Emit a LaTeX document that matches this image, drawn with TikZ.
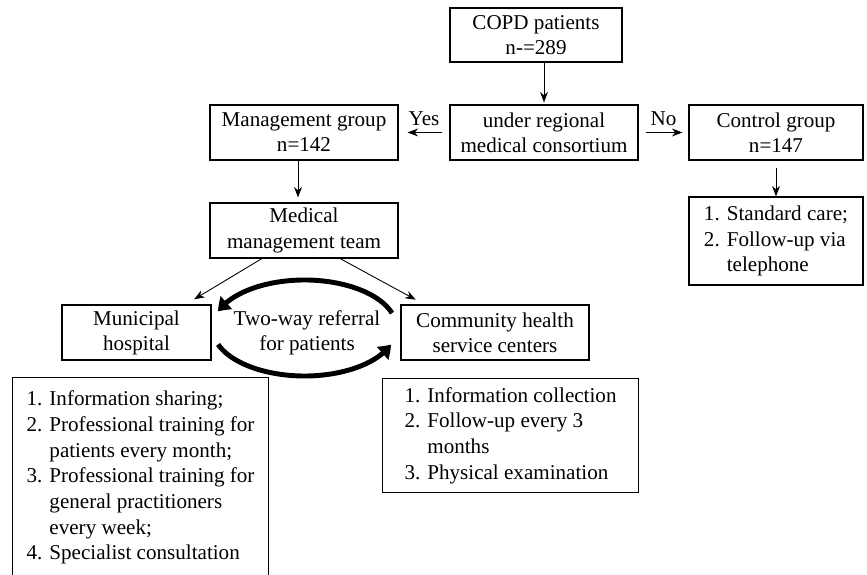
\documentclass[tikz,border=0pt]{standalone}
\usepackage{fontspec}
\setmainfont{Liberation Serif}
\usetikzlibrary{arrows.meta,bending}

\tikzset{
  box/.style={draw, line width=0.6pt, align=center, inner sep=2pt,
    font=\fontsize{12}{14.3}\selectfont},
  listbox/.style={draw, line width=0.6pt, align=left,
    font=\fontsize{12}{14.6}\selectfont},
  arr/.style={-{Stealth[length=6pt,width=4.5pt]}, line width=0.5pt},
  twoway/.style={line width=2.8pt, -{Triangle[length=7pt,width=9.5pt,bend]}}
}

\begin{document}
\begin{tikzpicture}[font=\fontsize{12}{14.3}\selectfont]
    \useasboundingbox (0,0) rectangle (17.34,-11.5);
    % top row
    \node[box, minimum width=3.44cm, minimum height=1.08cm] (copd) at (10.72,-0.7) {COPD patients\\n-=289};
    \node[box, minimum width=3.76cm, minimum height=1.1cm] (consort) at (10.88,-2.65) {under regional\\medical consortium};
    \node[box, minimum width=3.76cm, minimum height=1.1cm] (mgmt) at (6.08,-2.65) {Management group\\n=142};
    \node[box, minimum width=3.48cm, minimum height=1.1cm] (ctrl) at (15.52,-2.65) {Control group\\n=147};
    \node[listbox, minimum width=3.48cm, minimum height=1.76cm] (ctrllist) at (15.52,-4.82) {1. Standard care;\\2. Follow-up via\\\phantom{2. }telephone};
    \draw[arr, shorten >=0.04cm] (copd.south -| consort.north) -- (consort.north);
    \draw[arr, shorten <=0.14cm, shorten >=0.18cm] (consort.west) -- node[above] {Yes} (mgmt.east);
    \draw[arr, shorten <=0.14cm, shorten >=0.12cm] (consort.east) -- node[above] {No} (ctrl.west);
    \draw[arr, shorten <=0.14cm] (ctrl.south) -- (ctrllist.north);
    % management branch
    \node[box, minimum width=3.76cm, minimum height=1.1cm] (team) at (6.08,-4.61) {Medical\\management team};
    \node[box, minimum width=2.98cm, minimum height=1.1cm] (hosp) at (2.73,-6.65) {Municipal\\hospital};
    \node[box, minimum width=3.76cm, minimum height=1.1cm] (comm) at (9.9,-6.65) {Community health\\service centers};
    \draw[arr, shorten >=0.1cm] ([xshift=-0.12cm]mgmt.south) -- ([xshift=-0.12cm]team.north);
    \draw[arr, shorten >=0.2cm] ([xshift=-0.84cm]team.south) -- ([xshift=-0.52cm]hosp.north east);
    \draw[arr, shorten >=0.2cm] ([xshift=0.72cm]team.south) -- ([xshift=0.48cm]comm.north west);
    % two-way referral
    \coordinate (loop) at (6.09,-6.56);
    \node[align=center] (refer) at (6.14,-6.66) {Two-way referral\\for patients};
    \draw[twoway] ([shift={(18:1.84cm and 0.96cm)}]loop) arc[start angle=18, end angle=160, x radius=1.84cm, y radius=0.96cm];
    \draw[twoway] ([shift={(200:1.84cm and 0.96cm)}]loop) arc[start angle=200, end angle=340, x radius=1.84cm, y radius=0.96cm];
    % task lists
    \node[listbox, anchor=north west, minimum width=5.12cm, inner ysep=0.27cm, text depth=1.2cm] (hosplist) at (0.24,-7.54) {1. Information sharing;\\2. Professional training for\\\phantom{2. }patients every month;\\3. Professional training for\\\phantom{3. }general practitioners\\\phantom{3. }every week;\\4. Specialist consultation};
    \node[listbox, anchor=north west, minimum width=5.12cm, minimum height=2.28cm] (commlist) at (7.64,-7.56) {1. Information collection\\2. Follow-up every 3\\\phantom{2. }months\\3. Physical examination};
\end{tikzpicture}
\end{document}
